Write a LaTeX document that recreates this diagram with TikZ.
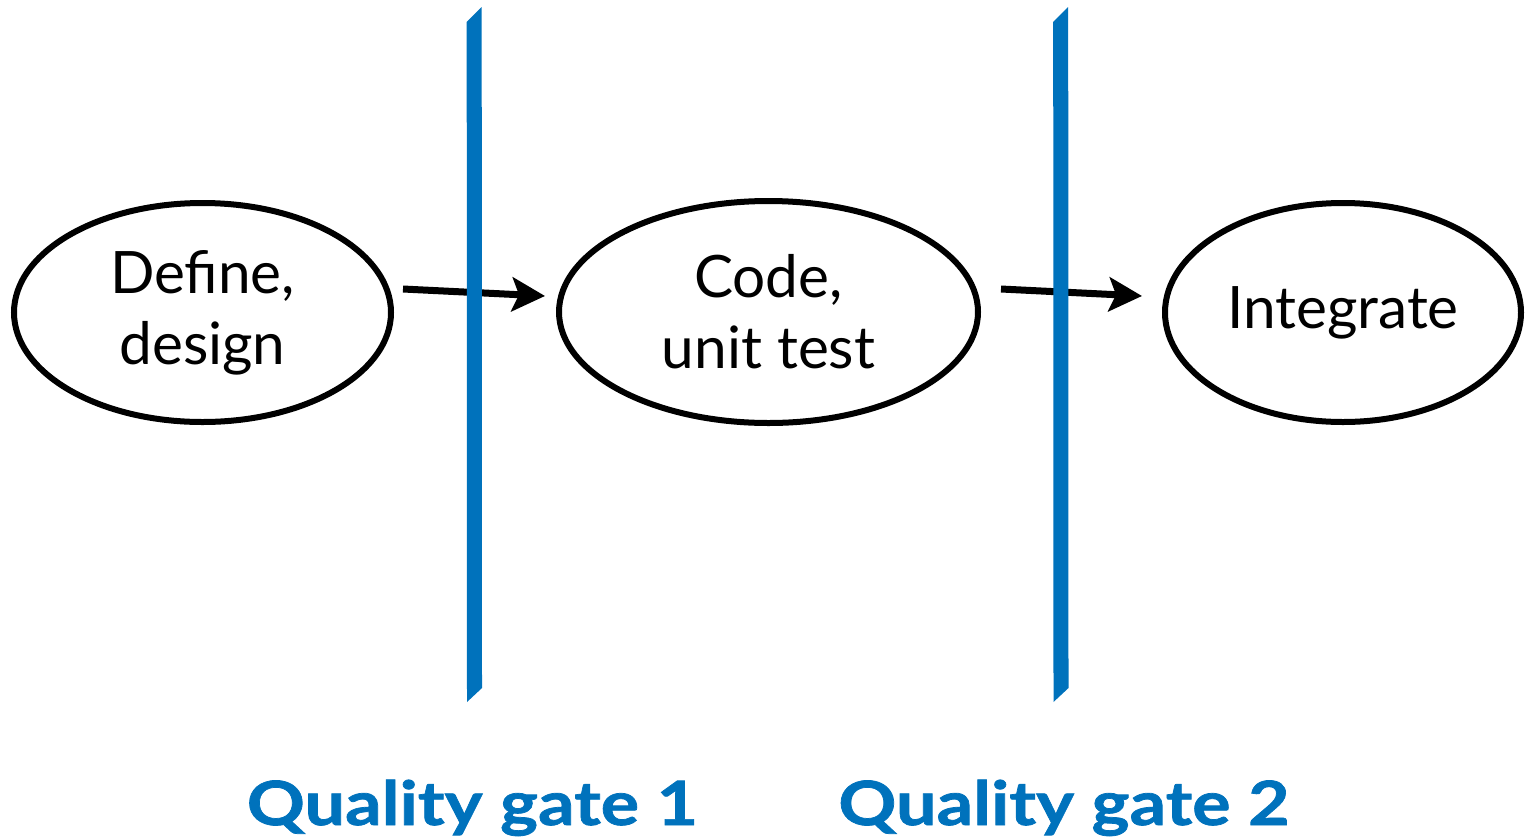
\documentclass[tikz,border=0pt]{standalone}
\usepackage{fontspec}
\setmainfont{Lato}
\newfontfamily\gatefont[FakeStretch=1.18,FakeBold=1.2]{Lato Bold}
\usetikzlibrary{arrows.meta,shapes.geometric}
\definecolor{gateblue}{RGB}{0,114,188}
\begin{document}
\begin{tikzpicture}[x=1pt,y=-1pt,
  stage/.style={ellipse,draw=black,line width=6pt,inner sep=0pt,align=center,
    font=\fontsize{58.5}{71}\selectfont},
  flow/.style={line width=7pt,-{Stealth[length=33pt,width=34pt,inset=7pt]}},
  gatebar/.style={fill=gateblue},
  gatelabel/.style={text=gateblue,font=\fontsize{61}{61}\gatefont}]
\useasboundingbox (0,0) rectangle (1526,839);

% process stages
\node[stage,minimum width=377pt,minimum height=219pt] (define) at (202.5,312.5) {Define,\\design};
\node[stage,minimum width=419pt,minimum height=222pt] (code) at (768.5,312) {Code,\\unit test};
\node[stage,minimum width=356pt,minimum height=219pt] (integ) at (1343,312.5) {Integrate};

% arrow end points between the stages
\coordinate (a1s) at (403,289);
\coordinate (a1e) at (545,296);
\coordinate (a2s) at (1001,289);
\coordinate (a2e) at (1142,296);
\draw[flow] (a1s) -- (a1e);
\draw[flow] (a2s) -- (a2e);

% quality gate bars, drawn over the arrows
\fill[gatebar] (466.7,22) -- (481.7,7) -- (482,688) -- (467,702) -- cycle;
\fill[gatebar] (1053.2,22) -- (1068.2,7) -- (1068.5,688) -- (1053.5,702) -- cycle;

% gate captions
\node[gatelabel,anchor=base] (g1) at (472.5,825) {Quality gate 1};
\node[gatelabel,anchor=base] (g2) at (1064,825) {Quality gate 2};
\end{tikzpicture}
\end{document}
